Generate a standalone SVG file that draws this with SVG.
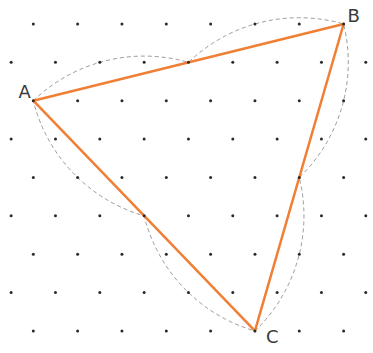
<svg xmlns="http://www.w3.org/2000/svg" xmlns:xlink="http://www.w3.org/1999/xlink" width="373" height="353" viewBox="0 0 373 353">
<style>
.dot{fill:#2a2a2a}
.arc{fill:none;stroke:#9a9a9a;stroke-width:1;stroke-dasharray:4 3}
.edge{fill:none;stroke:#F07F35;stroke-width:2.5;stroke-linecap:round}
.lbl{font-family:"DejaVu Sans","Liberation Sans",sans-serif;font-size:18px;fill:#3a3a3a}
</style>
<defs><circle id="d" r="1.5"/></defs>
<rect width="373" height="353" fill="#fff"/>
<g id="arcs">
<path class="arc" d="M33.3,100.74 A159.8,159.8 0 0 1 188.46,62.37 A159.8,159.8 0 0 1 343.61,24 A159.8,159.8 0 0 1 299.28,177.48 A159.8,159.8 0 0 1 254.95,330.96 A159.8,159.8 0 0 1 144.13,215.85 A159.8,159.8 0 0 1 33.3,100.74 Z"/>
</g>
<g id="connectors">
<line class="edge" x1="33.3" y1="100.74" x2="343.61" y2="24"/>
<line class="edge" x1="343.61" y1="24" x2="254.95" y2="330.96"/>
<line class="edge" x1="254.95" y1="330.96" x2="33.3" y2="100.74"/>
</g>
<g id="grid" class="dot">
<g transform="translate(0,24)"><use href="#d" x="33.3"/><use href="#d" x="77.63"/><use href="#d" x="121.96"/><use href="#d" x="166.29"/><use href="#d" x="210.62"/><use href="#d" x="254.95"/><use href="#d" x="299.28"/><use href="#d" x="343.61"/></g>
<g transform="translate(0,62.37)"><use href="#d" x="11.14"/><use href="#d" x="55.47"/><use href="#d" x="99.8"/><use href="#d" x="144.13"/><use href="#d" x="188.46"/><use href="#d" x="232.79"/><use href="#d" x="277.12"/><use href="#d" x="321.45"/><use href="#d" x="365.78"/></g>
<g transform="translate(0,100.74)"><use href="#d" x="33.3"/><use href="#d" x="77.63"/><use href="#d" x="121.96"/><use href="#d" x="166.29"/><use href="#d" x="210.62"/><use href="#d" x="254.95"/><use href="#d" x="299.28"/><use href="#d" x="343.61"/></g>
<g transform="translate(0,139.11)"><use href="#d" x="11.14"/><use href="#d" x="55.47"/><use href="#d" x="99.8"/><use href="#d" x="144.13"/><use href="#d" x="188.46"/><use href="#d" x="232.79"/><use href="#d" x="277.12"/><use href="#d" x="321.45"/><use href="#d" x="365.78"/></g>
<g transform="translate(0,177.48)"><use href="#d" x="33.3"/><use href="#d" x="77.63"/><use href="#d" x="121.96"/><use href="#d" x="166.29"/><use href="#d" x="210.62"/><use href="#d" x="254.95"/><use href="#d" x="299.28"/><use href="#d" x="343.61"/></g>
<g transform="translate(0,215.85)"><use href="#d" x="11.14"/><use href="#d" x="55.47"/><use href="#d" x="99.8"/><use href="#d" x="144.13"/><use href="#d" x="188.46"/><use href="#d" x="232.79"/><use href="#d" x="277.12"/><use href="#d" x="321.45"/><use href="#d" x="365.78"/></g>
<g transform="translate(0,254.22)"><use href="#d" x="33.3"/><use href="#d" x="77.63"/><use href="#d" x="121.96"/><use href="#d" x="166.29"/><use href="#d" x="210.62"/><use href="#d" x="254.95"/><use href="#d" x="299.28"/><use href="#d" x="343.61"/></g>
<g transform="translate(0,292.59)"><use href="#d" x="11.14"/><use href="#d" x="55.47"/><use href="#d" x="99.8"/><use href="#d" x="144.13"/><use href="#d" x="188.46"/><use href="#d" x="232.79"/><use href="#d" x="277.12"/><use href="#d" x="321.45"/><use href="#d" x="365.78"/></g>
<g transform="translate(0,330.96)"><use href="#d" x="33.3"/><use href="#d" x="77.63"/><use href="#d" x="121.96"/><use href="#d" x="166.29"/><use href="#d" x="210.62"/><use href="#d" x="254.95"/><use href="#d" x="299.28"/><use href="#d" x="343.61"/></g>
</g>
<g id="A"><text class="lbl" x="18.5" y="98">A</text></g>
<g id="B"><text class="lbl" x="347.5" y="21.7">B</text></g>
<g id="C"><text class="lbl" x="266" y="343">C</text></g>
</svg>
